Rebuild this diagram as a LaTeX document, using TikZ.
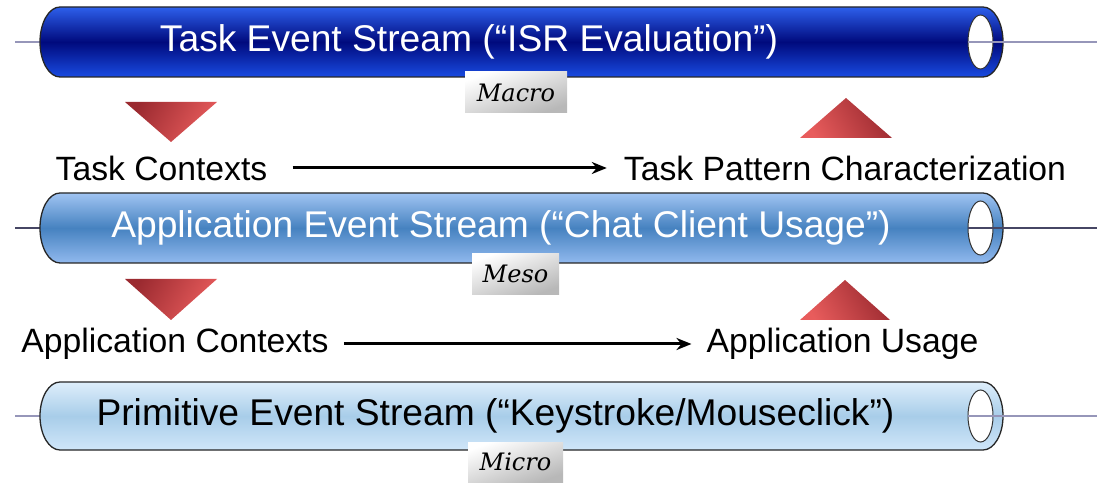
\documentclass[tikz,border=0pt]{standalone}
\usepackage{fontspec}
\setmainfont{Liberation Sans}
\newfontfamily\scriptlab{DejaVu Serif}
\usetikzlibrary{arrows.meta}
\definecolor{aTop}{RGB}{45,95,235}
\definecolor{aMid}{RGB}{0,10,125}
\definecolor{aBot}{RGB}{25,75,225}
\definecolor{bTop}{RGB}{160,196,242}
\definecolor{bMid}{RGB}{70,130,192}
\definecolor{bBot}{RGB}{145,185,238}
\definecolor{cTop}{RGB}{222,238,251}
\definecolor{cMid}{RGB}{168,205,233}
\definecolor{cBot}{RGB}{208,230,249}
\definecolor{lineA}{RGB}{150,150,185}
\definecolor{lineB}{RGB}{70,70,100}
\definecolor{triDark}{RGB}{155,42,48}
\definecolor{triLight}{RGB}{232,92,92}
\newcommand\evcyl[7]{%
  % #1 name, #2 y centre, #3 top, #4 mid, #5 bottom, #6 line colour, #7 ry
  \coordinate (#1L) at (15,#2);
  \coordinate (#1E) at (40,#2);
  \coordinate (#1H) at (968,#2);
  \coordinate (#1R) at (1097,#2);
  \draw[#6,line width=1.2pt] (#1L) -- (#1E);
  \shade[top color=#3,bottom color=#5,middle color=#4,draw=black!85,line width=1.3pt]
    (60,#2+#7) -- (983,#2+#7) arc[start angle=90,end angle=-90,x radius=20,y radius=#7]
    -- (60,#2-#7) arc[start angle=270,end angle=90,x radius=20,y radius=#7] -- cycle;
  \filldraw[fill=white,draw=black!80,line width=1pt] (980.5,#2) ellipse[x radius=12.5,y radius=#7-8];
  \draw[#6,line width=1.2pt] (#1H) -- (#1R);
}
\tikzset{
  cyltext/.style={font=\fontsize{37.2}{42}\selectfont,inner sep=0pt},
  rowtext/.style={font=\fontsize{33.7}{38}\selectfont,text=black,inner sep=0pt},
  lvlbox/.style={minimum width=#1,minimum height=41pt,inner sep=0pt,
    shading=axis,top color=white,bottom color=black!28,shading angle=20,
    font=\scriptlab\itshape\fontsize{24}{26}\selectfont},
  flow/.style={-{Stealth[length=15pt,width=12pt]},line width=3pt,black},
}
\begin{document}
\begin{tikzpicture}[x=1pt,y=1pt]
\useasboundingbox (0,0) rectangle (1097,482);
% cylinders
\evcyl{c1}{440}{aTop}{aMid}{aBot}{lineA}{35}
\evcyl{c2}{254}{bTop}{bMid}{bBot}{lineB}{35}
\evcyl{c3}{66}{cTop}{cMid}{cBot}{lineA}{34}
\node[cyltext,text=white] (t1) at (469,440) {Task Event Stream (“ISR Evaluation”)};
\node[cyltext,text=white] (t2) at (501,254) {Application Event Stream (“Chat Client Usage”)};
\node[cyltext,text=black] (t3) at (495.5,66) {Primitive Event Stream (“Keystroke/Mouseclick”)};
% level labels
\node[lvlbox=102pt] (macro) at (516,389.5) {Macro};
\node[lvlbox=87pt] (meso) at (515.5,208) {Meso};
\node[lvlbox=95pt,minimum height=40pt] (micro) at (515.5,20) {Micro};
% triangles
\shade[left color=triDark,right color=triLight,shading angle=60] (125,380) -- (217,380) -- (171,340) -- cycle;
\shade[left color=triLight,right color=triDark,shading angle=120] (800,344) -- (892,344) -- (846,384) -- cycle;
\shade[left color=triDark,right color=triLight,shading angle=60] (125,203) -- (217,203) -- (171,162) -- cycle;
\shade[left color=triLight,right color=triDark,shading angle=120] (800,162) -- (890,162) -- (845,202) -- cycle;
% row texts
\node[rowtext] (tc) at (161.5,314) {Task Contexts};
\node[rowtext] (tp) at (845,314) {Task Pattern Characterization};
\node[rowtext] (ac) at (175,138) {Application Contexts};
\node[rowtext] (au) at (842.5,138) {Application Usage};
\draw[flow,shorten <=25pt,shorten >=17pt] (tc.east) -- (tp.west);
\draw[flow,shorten <=15pt,shorten >=15pt] (ac.east) -- (au.west);
\end{tikzpicture}
\end{document}
